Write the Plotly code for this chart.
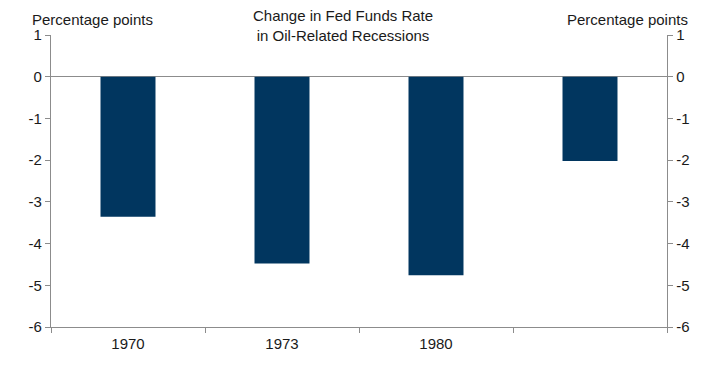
import plotly.graph_objects as go

categories = ["1970", "1973", "1980", "4"]
tick_labels = ["1970", "1973", "1980", ""]
values = [-3.36, -4.48, -4.76, -2.02]
y_ticks = [1, 0, -1, -2, -3, -4, -5, -6]
y_tick_labels = ["1", "0", "-1", "-2", "-3", "-4", "-5", "-6"]

bar_color = "#01365f"
axis_color = "#8c8c8c"
font = "Liberation Sans, Arial, sans-serif"
FS = 15

OFF = 8  # page body margin
W, H = 719 - OFF, 377 - OFF
# plot area in window pixels: x 51..667, y 35..327
ML, MR, MT, MB = 51 - OFF, 719 - 667, 35 - OFF, 377 - 327

fig = go.Figure()
fig.add_trace(go.Bar(x=categories, y=values, marker=dict(color=bar_color, line=dict(width=0)),
                     width=0.357, showlegend=False))
fig.add_trace(go.Scatter(x=categories, y=values, yaxis="y2", mode="markers",
                         marker=dict(opacity=0), showlegend=False, hoverinfo="skip"))

yax_common = dict(range=[-6, 1], tickvals=y_ticks, ticktext=y_tick_labels,
                  ticks="outside", ticklen=5, tickcolor=axis_color, showline=True,
                  linecolor=axis_color, linewidth=1.3, showgrid=False,
                  tickfont=dict(size=FS), automargin=False)

fig.update_layout(
    width=W, height=H,
    margin=dict(l=ML, r=MR, t=MT, b=MB, autoexpand=False),
    paper_bgcolor="white", plot_bgcolor="white",
    font=dict(family=font, size=FS, color="#1a1a1a"),
    xaxis=dict(type="category", tickvals=categories, ticktext=tick_labels,
               tickson="boundaries", ticks="outside", ticklen=5, tickcolor=axis_color,
               showline=True, linecolor=axis_color, linewidth=1.3, showgrid=False,
               zeroline=False, range=[-0.5, 3.5], tickfont=dict(size=FS),
               automargin=False, ticklabelstandoff=3),
    yaxis=dict(**yax_common, zeroline=True, zerolinecolor=axis_color, zerolinewidth=1.3),
    yaxis2=dict(**yax_common, overlaying="y", side="right", zeroline=False),
)

pw = W - ML - MR
ph = H - MT - MB
def px(x):
    return (x - OFF - ML) / pw
def py(y):
    return (H - MB - (y - OFF)) / ph

fig.add_annotation(text="Percentage points", x=px(92), y=py(19), xref="paper", yref="paper",
                   xanchor="center", yanchor="middle", showarrow=False, font=dict(size=FS))
fig.add_annotation(text="Change in Fed Funds Rate<br>in Oil-Related Recessions",
                   x=px(343), y=py(26), xref="paper", yref="paper",
                   xanchor="center", yanchor="middle", showarrow=False, font=dict(size=FS))
fig.add_annotation(text="Percentage points", x=px(627), y=py(19), xref="paper", yref="paper",
                   xanchor="center", yanchor="middle", showarrow=False, font=dict(size=FS))

fig.write_html("out.html")
